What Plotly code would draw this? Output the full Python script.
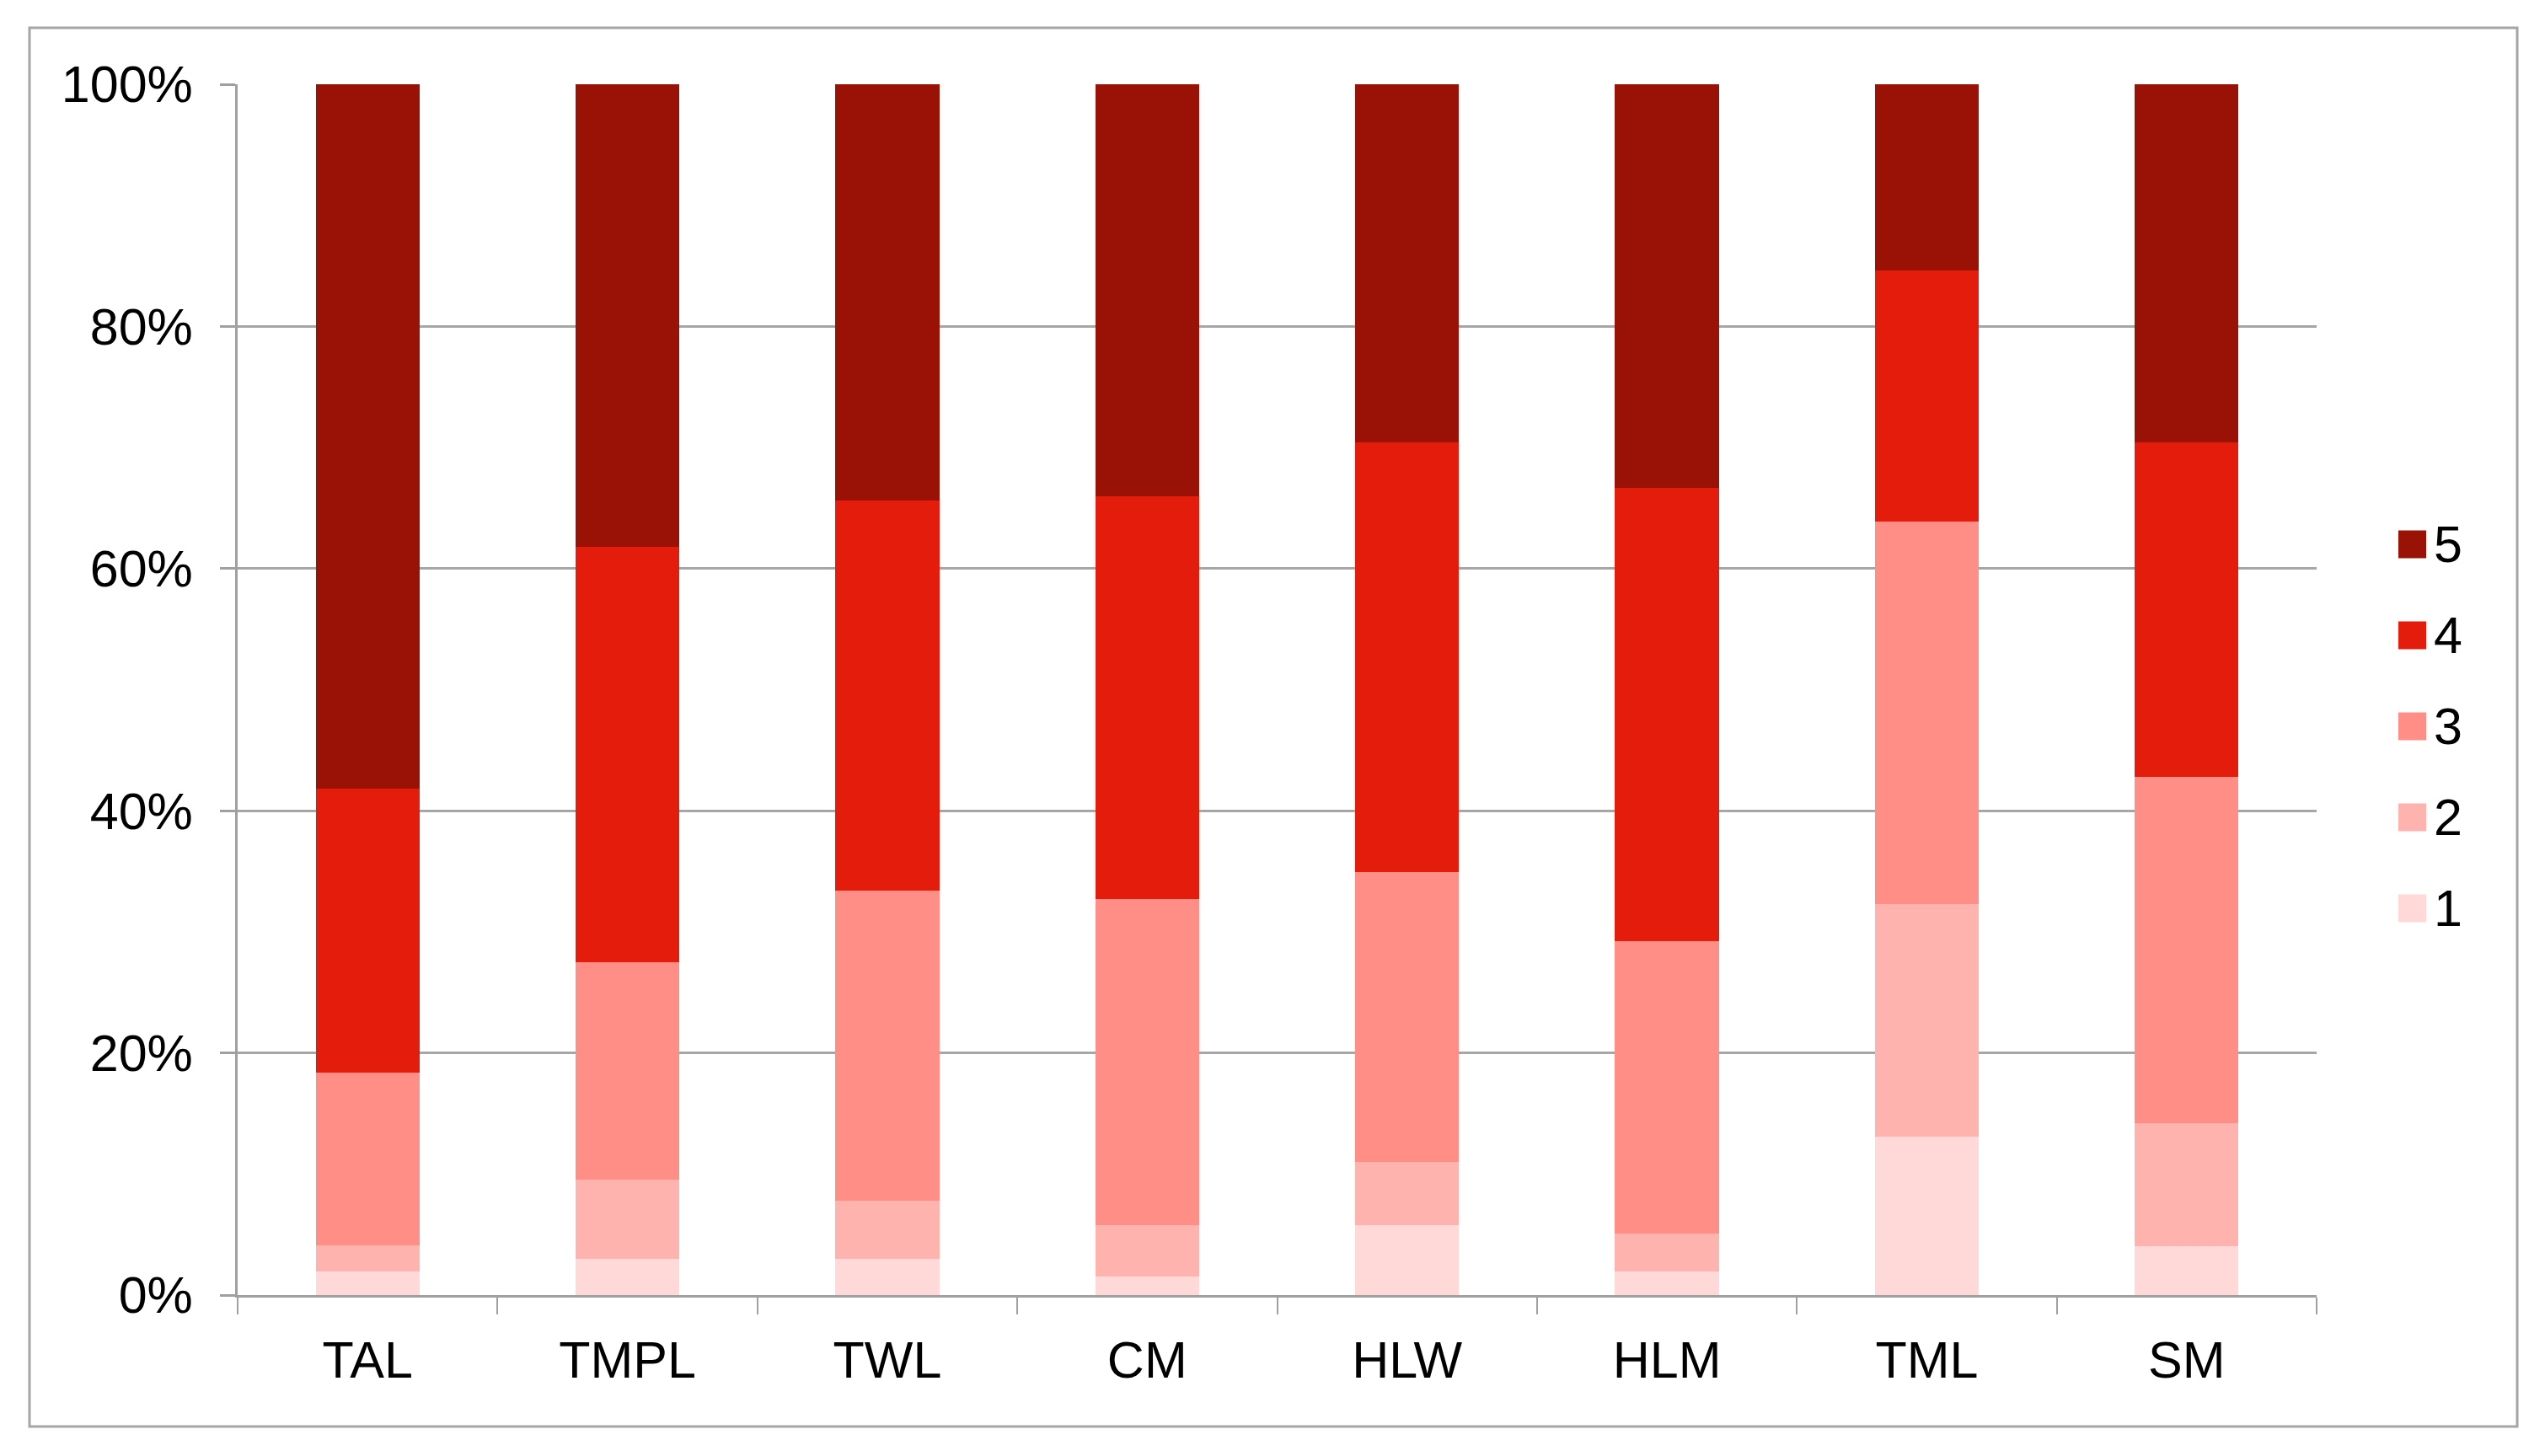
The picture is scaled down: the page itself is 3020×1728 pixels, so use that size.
import plotly.graph_objects as go

categories = ["TAL", "TMPL", "TWL", "CM", "HLW", "HLM", "TML", "SM"]
levels = ["1", "2", "3", "4", "5"]
# percentage share of each rating level per category
s1 = [1.95, 3.0, 3.0, 1.5, 5.75, 1.95, 13.1, 4.05]
s2 = [2.15, 6.5, 4.8, 4.25, 5.25, 3.15, 19.2, 10.15]
s3 = [14.3, 18.0, 25.6, 26.95, 23.9, 24.1, 31.6, 28.6]
s4 = [23.4, 34.3, 32.2, 33.3, 35.5, 37.5, 20.7, 27.6]
s5 = [58.2, 38.2, 34.4, 34.0, 29.6, 33.3, 15.4, 29.6]
series = [s1, s2, s3, s4, s5]
colors = ["#FFD9D7", "#FFB3AE", "#FF8E86", "#E31C0C", "#9A1106"]
ytick_vals = [0, 20, 40, 60, 80, 100]
ytick_text = ["0%", "20%", "40%", "60%", "80%", "100%"]

W, H = 3020, 1728
OFF = 8  # page body margin
FONT = "Liberation Sans, Arial, sans-serif"

fig = go.Figure()
for name, vals, col in zip(levels, series, colors):
    fig.add_trace(go.Bar(x=categories, y=vals, name=name,
                         marker=dict(color=col, line=dict(width=0)),
                         showlegend=False))

# plot area in screen pixels
x0, x1 = 282 - OFF, 2749 - OFF
y_top, y_bot = 100 - OFF, 1537 - OFF

def px(x):
    return (x - OFF) / W

def py(y):
    return 1 - (y - OFF) / H

shapes = [dict(type="rect", xref="paper", yref="paper",
               x0=px(35), x1=px(2987), y0=py(1693), y1=py(33),
               line=dict(color="#A6A6A6", width=3), fillcolor="rgba(0,0,0,0)",
               layer="below")]
annotations = []
# custom legend (5 on top)
leg_y = [646, 754, 862, 970, 1078]
sz = 33
for i, (name, col) in enumerate(zip(levels[::-1], colors[::-1])):
    cy = leg_y[i]
    shapes.append(dict(type="rect", xref="paper", yref="paper",
                       x0=px(2846), x1=px(2846 + sz),
                       y0=py(cy + sz / 2), y1=py(cy - sz / 2),
                       line=dict(width=0), fillcolor=col))
    annotations.append(dict(xref="paper", yref="paper", x=px(2886), y=py(cy),
                            text=name, showarrow=False, xanchor="left", yanchor="middle",
                            font=dict(family=FONT, size=61, color="black")))

fig.update_layout(
    width=W, height=H,
    margin=dict(l=0, r=0, t=0, b=0, autoexpand=False),
    paper_bgcolor="white", plot_bgcolor="white",
    barmode="stack", bargap=0.6,
    shapes=shapes, annotations=annotations,
    font=dict(family=FONT, size=61, color="black"),
    xaxis=dict(domain=[x0 / W, x1 / W], range=[-0.5, 7.5], automargin=False,
               showline=True, linecolor="#A0A0A0", linewidth=3,
               ticks="outside", tickson="boundaries", ticklen=20, tickwidth=2,
               tickcolor="#A0A0A0", showgrid=False,
               tickfont=dict(family=FONT, size=61, color="black"),
               ticklabelstandoff=22),
    yaxis=dict(domain=[1 - y_bot / H, 1 - y_top / H], range=[0, 100], automargin=False,
               tickmode="array", tickvals=ytick_vals, ticktext=ytick_text,
               showline=True, linecolor="#A0A0A0", linewidth=3,
               ticks="outside", ticklen=18, tickwidth=3, tickcolor="#A0A0A0",
               showgrid=True, gridcolor="#A6A6A6", gridwidth=3,
               zeroline=False,
               tickfont=dict(family=FONT, size=61, color="black"),
               ticklabelstandoff=20),
)

fig.write_html("out.html")
